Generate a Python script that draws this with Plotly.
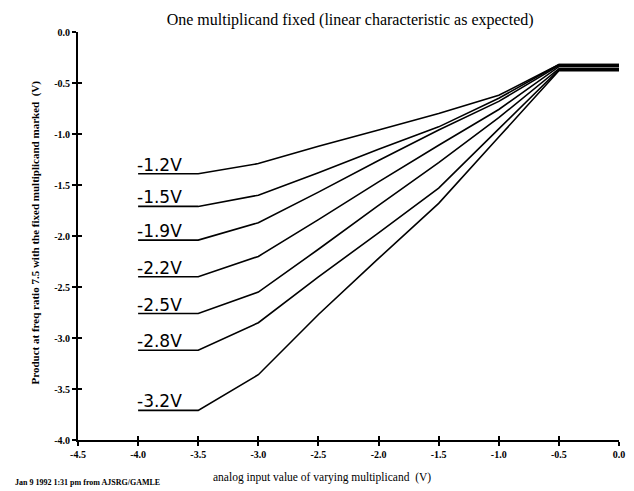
import plotly.graph_objects as go

x_vals = [-4.0, -3.5, -3.0, -2.5, -2.0, -1.5, -1.0, -0.5, 0.0]
labels = ["-1.2V", "-1.5V", "-1.9V", "-2.2V", "-2.5V", "-2.8V", "-3.2V"]
label_text = ["-1.2V", "-1.5V", "-1.9V", "-2.2V", "-2.5V", "-2.8V", "-3.2V"]
s_12 = [-1.39, -1.39, -1.29, -1.12, -0.96, -0.80, -0.62, -0.32, -0.32]
s_15 = [-1.71, -1.71, -1.60, -1.38, -1.15, -0.93, -0.65, -0.32, -0.32]
s_19 = [-2.04, -2.04, -1.87, -1.57, -1.26, -0.96, -0.68, -0.33, -0.33]
s_22 = [-2.40, -2.40, -2.20, -1.84, -1.47, -1.11, -0.76, -0.34, -0.34]
s_25 = [-2.76, -2.76, -2.55, -2.13, -1.70, -1.28, -0.84, -0.36, -0.36]
s_28 = [-3.12, -3.12, -2.85, -2.40, -1.97, -1.53, -0.95, -0.37, -0.37]
s_32 = [-3.71, -3.71, -3.36, -2.77, -2.22, -1.68, -1.03, -0.38, -0.38]
series = [s_12, s_15, s_19, s_22, s_25, s_28, s_32]

x_ticks = [-4.5, -4.0, -3.5, -3.0, -2.5, -2.0, -1.5, -1.0, -0.5, 0.0]
y_ticks = [0.0, -0.5, -1.0, -1.5, -2.0, -2.5, -3.0, -3.5, -4.0]

fig = go.Figure()
for name, ys in zip(labels, series):
    fig.add_trace(go.Scatter(x=x_vals, y=ys, mode="lines", name=name,
                             line=dict(color="black", width=1.6),
                             showlegend=False, hoverinfo="skip"))

for txt, ys in zip(label_text, series):
    fig.add_annotation(x=-4.0, y=ys[0], xref="x", yref="y", text=txt,
                       showarrow=False, xanchor="left", yanchor="bottom",
                       xshift=-3, yshift=-3,
                       font=dict(family="DejaVu Sans", size=17, color="black"))

serif = "Liberation Serif"
tickstyle = dict(family=serif, size=10, color="black", weight="bold")
fig.update_layout(
    width=626, height=483,
    margin=dict(l=70, r=9, t=24, b=51),
    paper_bgcolor="white", plot_bgcolor="white",
    title=dict(text="One multiplicand fixed (linear characteristic as expected)",
               x=0.503, xref="paper", xanchor="center", y=0.9772, yref="container",
               yanchor="middle",
               font=dict(family=serif, size=16, color="black")),
    xaxis=dict(range=[-4.5, 0.0], tickvals=x_ticks, ticktext=[f"{v:.1f}" for v in x_ticks],
               showgrid=False, zeroline=False, showline=True, linecolor="black", linewidth=2,
               ticks="outside", ticklen=4, tickwidth=1.5, tickcolor="black",
               tickfont=tickstyle),
    yaxis=dict(range=[-4.0, 0.0], tickvals=y_ticks, ticktext=[f"{v:.1f}" for v in y_ticks],
               showgrid=False, zeroline=False, showline=True, linecolor="black", linewidth=2,
               ticks="outside", ticklen=4, tickwidth=1.5, tickcolor="black",
               tickfont=tickstyle),
    xaxis2=dict(range=[-4.5, 0.0], overlaying="x", tickvals=x_ticks, showticklabels=False,
                ticks="inside", ticklen=4, tickwidth=1.5, tickcolor="black",
                showgrid=False, zeroline=False, showline=False, anchor="y", side="bottom"),
    yaxis2=dict(range=[-4.0, 0.0], overlaying="y", tickvals=y_ticks, showticklabels=False,
                ticks="inside", ticklen=4, tickwidth=1.5, tickcolor="black",
                showgrid=False, zeroline=False, showline=False, anchor="x", side="left"),
)
fig.add_trace(go.Scatter(x=[None], y=[None], xaxis="x2", yaxis="y2", showlegend=False))

fig.add_annotation(text="analog input value of varying multiplicand  (V)",
                   xref="paper", yref="paper", x=0.4516, y=-0.093,
                   xanchor="center", yanchor="middle", showarrow=False,
                   font=dict(family=serif, size=11.5, color="black"))

fig.add_annotation(text="Product at freq ratio 7.5 with the fixed multiplicand marked  (V)",
                   xref="paper", yref="paper", x=-0.0786, y=0.51, textangle=-90,
                   xanchor="center", yanchor="middle", showarrow=False,
                   font=dict(family=serif, size=11, color="black", weight="bold"))

fig.add_annotation(text="Jan 9 1992 1:31 pm from AJSRG/GAMLE", xref="paper", yref="paper",
                   x=-0.1207, y=-0.103, xanchor="left", yanchor="middle", showarrow=False,
                   font=dict(family=serif, size=8, color="black", weight="bold"))

fig.write_html("out.html")
